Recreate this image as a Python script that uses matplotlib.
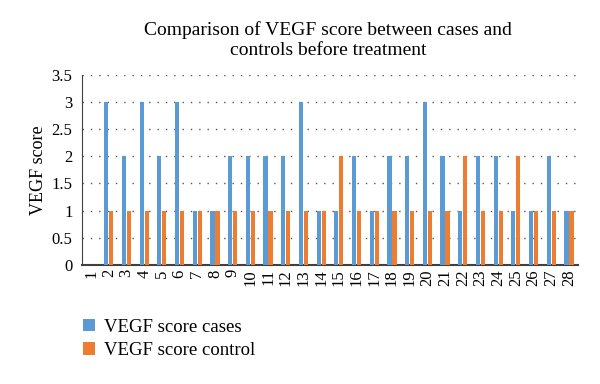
import matplotlib
matplotlib.use("Agg")
import matplotlib.pyplot as plt
import numpy as np

categories = [str(i) for i in range(1, 29)]
cases = [np.nan, 3, 2, 3, 2, 3, 1, 1, 2, 2, 2, 2, 3, 1, 1, 2, 1, 2, 2, 3, 2, 1, 2, 2, 1, 1, 2, 1]
control = [np.nan, 1, 1, 1, 1, 1, 1, 1, 1, 1, 1, 1, 1, 1, 2, 1, 1, 1, 1, 1, 1, 2, 1, 1, 2, 1, 1, 1]
yticks = [0, 0.5, 1, 1.5, 2, 2.5, 3, 3.5]
ytick_labels = ["0", "0.5", "1", "1.5", "2", "2.5", "3", "3.5"]

plt.rcParams['font.family'] = ['Liberation Serif', 'DejaVu Serif']

fig = plt.figure(figsize=(6, 3.84), dpi=100)
ax = fig.add_axes([0.137, 0.310, 0.826, 0.495])

x = np.arange(len(categories))
w = 0.24
ax.bar(x - 0.14, cases, width=w, color='#5B9BD5', label='VEGF score cases', zorder=3)
ax.bar(x + 0.14, control, width=w, color='#ED7D31', label='VEGF score control', zorder=3)

ax.set_xlim(-0.5, len(categories) - 0.5)
ax.set_ylim(0, 3.5)
ax.set_yticks(yticks)
ax.set_yticklabels(ytick_labels, fontsize=12)
ax.set_xticks(x)
ax.set_xticklabels(categories, rotation=90, fontsize=12)
ax.tick_params(axis='y', length=0, pad=7)
ax.tick_params(axis='x', length=0, pad=3)
ax.yaxis.grid(True, linestyle=(0, (1, 5)), color='#555555', linewidth=1.0, zorder=0)
for s in ['top', 'right']:
    ax.spines[s].set_visible(False)
ax.spines['left'].set_color('#404040')
ax.spines['bottom'].set_color('#404040')
ax.spines['bottom'].set_linewidth(1.5)
ax.set_ylabel('VEGF score', fontsize=13, labelpad=3)

fig.text(0.547, 1 - 35 / 384, 'Comparison of VEGF score between cases and',
         ha='center', va='baseline', fontsize=14)
fig.text(0.547, 1 - 55 / 384, 'controls before treatment',
         ha='center', va='baseline', fontsize=14)

fig.legend(loc='lower left', bbox_to_anchor=(0.125, 0.045), frameon=False, fontsize=13.5,
           handlelength=0.65, handleheight=0.65, handletextpad=0.5, labelspacing=0.35,
           borderaxespad=0)

fig.savefig('out.png', dpi=100)
